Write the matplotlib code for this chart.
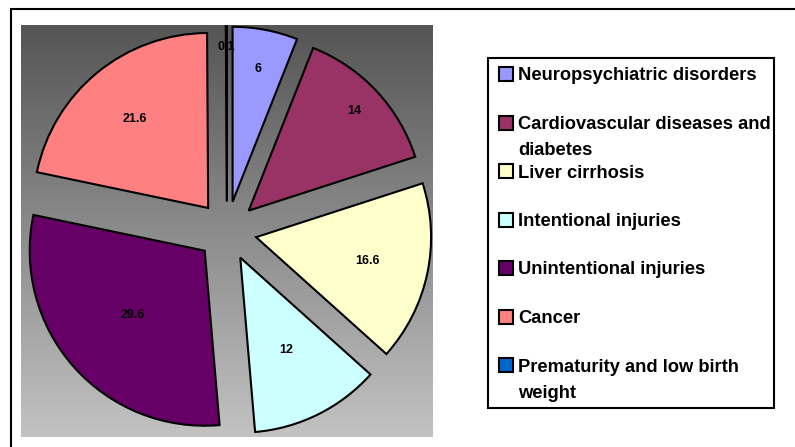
import numpy as np
import matplotlib
matplotlib.use("Agg")
import matplotlib.pyplot as plt
from matplotlib.patches import Rectangle
from matplotlib.colors import LinearSegmentedColormap

plt.rcParams['font.family'] = ['Liberation Sans', 'DejaVu Sans']

# data, clockwise from 12 o'clock
labels = ["Neuropsychiatric disorders",
          "Cardiovascular diseases and\ndiabetes",
          "Liver cirrhosis",
          "Intentional injuries",
          "Unintentional injuries",
          "Cancer",
          "Prematurity and low birth\nweight"]
values = [6, 14, 16.6, 12, 29.6, 21.6, 0.1]
value_text = ["6", "14", "16.6", "12", "29.6", "21.6", "0.1"]
colors = ["#9999FF", "#993366", "#FFFFCC", "#CCFFFF", "#660066", "#FF8080", "#0066CC"]

# where each value label sits along its wedge (fraction of radius)
label_dist = [0.77, 0.83, 0.65, 0.59, 0.55, 0.66, 0.88]

W, H = 795, 447
fig = plt.figure(figsize=(W / 100, H / 100), dpi=100)

# overlay in pixel coords for frame + legend
over = fig.add_axes([0, 0, 1, 1], zorder=0)
over.set_xlim(0, W)
over.set_ylim(H, 0)
over.axis('off')
over.plot([11, 11, W], [H, 9, 9], color='black', lw=1.5, solid_joinstyle='miter')

# pie area (gray gradient square)
x0, y0, side = 21, 25, 412
ax = fig.add_axes([x0 / W, 1 - (y0 + side) / H, side / W, side / H], zorder=1)
lim = (side / 2) / 175.0
grad = LinearSegmentedColormap.from_list("g", ["#555555", "#c2c2c2"])
ax.imshow(np.linspace(0, 1, 256)[:, None], extent=(-lim, lim, -lim, lim),
          cmap=grad, aspect='auto', zorder=0, origin='upper')

wedges, _ = ax.pie(values, colors=colors, startangle=90, counterclock=False,
                   explode=[0.17] * len(values), radius=1,
                   wedgeprops=dict(edgecolor='black', linewidth=1.5))
for w in wedges:
    w.set_zorder(2)

for w, txt, d in zip(wedges, value_text, label_dist):
    mid = np.deg2rad((w.theta1 + w.theta2) / 2)
    cx, cy = w.center
    ax.text(cx + d * np.cos(mid), cy + d * np.sin(mid), txt, ha='center', va='center',
            fontsize=9, fontweight='bold', color='black', zorder=3)

ax.set_xlim(-lim, lim)
ax.set_ylim(-lim, lim)
ax.set_aspect('auto')
ax.set_xticks([])
ax.set_yticks([])
for s in ax.spines.values():
    s.set_visible(True)
    s.set_color('#b8b8b8')
    s.set_linewidth(2)
    s.set_linestyle((0, (1, 1)))

# legend box
over.add_patch(Rectangle((488, 58), 286, 350, fill=False, edgecolor='black', lw=1.5, zorder=2))
step = 48.5
for i, (lab, c) in enumerate(zip(labels, colors)):
    yc = 74 + i * step
    over.add_patch(Rectangle((499, yc - 7), 14, 14, facecolor=c, edgecolor='black', lw=1.5, zorder=3))
    for j, line in enumerate(lab.split("\n")):
        over.text(518, yc + 6.5 + j * 26, line, ha='left', va='baseline', fontsize=13.2,
                  fontweight='bold', color='black', zorder=3)

fig.savefig("out.png", dpi=100)
